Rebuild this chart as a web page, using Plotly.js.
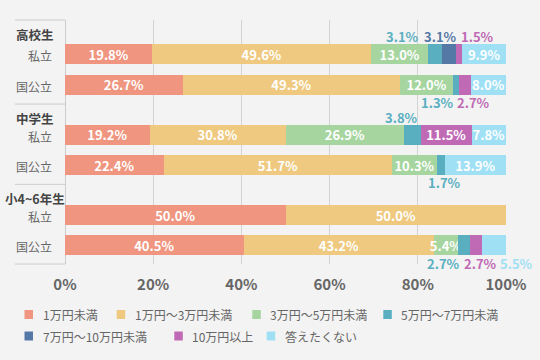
<!DOCTYPE html>
<html><head><meta charset="utf-8">
<script src="https://cdn.plot.ly/plotly-3.0.1.min.js"></script>
<style>html,body{margin:0;padding:0;background:#f3f3f3;}#chart{width:540px;height:360px;}</style>
</head><body><div id="chart"></div>
<script>
// ---- data ----
const groups = ['高校生', '中学生', '小4~6年生'];
const subs = ['私立', '国公立'];
const seriesNames = ['1万円未満', '1万円〜3万円未満', '3万円〜5万円未満', '5万円〜7万円未満', '7万円〜10万円未満', '10万円以上', '答えたくない'];
// rows: 高校生私立, 高校生国公立, 中学生私立, 中学生国公立, 小4~6年生私立, 小4~6年生国公立
const s1 = [19.8, 26.7, 19.2, 22.4, 50.0, 40.5];
const s2 = [49.6, 49.3, 30.8, 51.7, 50.0, 43.2];
const s3 = [13.0, 12.0, 26.9, 10.3, 0, 5.4];
const s4 = [3.1, 1.3, 3.8, 1.7, 0, 2.7];
const s5 = [3.1, 0, 0, 0, 0, 0];
const s6 = [1.5, 2.7, 11.5, 0, 0, 2.7];
const s7 = [9.9, 8.0, 7.8, 13.9, 0, 5.5];
const seriesValues = [s1, s2, s3, s4, s5, s6, s7];
const xTicks = [0, 20, 40, 60, 80, 100];

// ---- style ----
const colors = ['#ef9580', '#eec97f', '#a6d59f', '#59afc0', '#5579a6', '#c06ab5', '#a0e0f5'];
const FONT = '"Noto Sans CJK JP", "Noto Sans", sans-serif';
const W = 540, H = 360, ML = 65, MR = 34, MT = 20, MB = 96;
const PW = W - ML - MR, PH = H - MT - MB;
// labels drawn outside the bar: [row, series, side(-1 above / 1 below), x shift px]
const outside = [[0,3,-1,-33],[0,4,-1,-8],[0,5,-1,18.5],[1,3,1,-18.7],[1,5,1,9],[2,3,-1,-11.4],[3,3,1,4],[5,3,1,-20],[5,5,1,4.5],[5,6,1,23]];
const groupStep = 2.66;
const headerShift = [20, 16.5, 16.5];
// legend layout (pixel positions of each swatch's left edge and row centre)
const legendPos = [[24.5,314.5],[116.7,314.5],[252.3,314.5],[383.3,314.5],[24.5,336],[174.3,336],[266.7,336]];

const rowY = [];
groups.forEach((g, gi) => subs.forEach((s, si) => rowY.push(gi * groupStep + si)));
const isOutside = (r, s) => outside.some(o => o[0] === r && o[1] === s);

const fmt = v => v.toFixed(1) + '%';
const traces = seriesValues.map((vals, si) => ({
  type: 'bar', orientation: 'h', name: seriesNames[si],
  x: vals, y: rowY, width: 0.662,
  marker: {color: colors[si]},
  text: vals.map((v, r) => (v > 0 && !isOutside(r, si)) ? fmt(v) : ''),
  texttemplate: '%{text}',
  textposition: 'inside', insidetextanchor: 'middle', textangle: 0, constraintext: 'none',
  textfont: {family: FONT, size: 13, color: '#ffffff', weight: 'bold'},
  hoverinfo: 'none', showlegend: false
}));

const px2x = p => (p - ML) / PW;
const px2y = p => (H - MB - p) / PH;

const annotations = [];
outside.forEach(([r, si, side, dx]) => {
  let start = 0;
  for (let k = 0; k < si; k++) start += seriesValues[k][r];
  const v = seriesValues[si][r];
  annotations.push({
    x: start + v / 2, y: rowY[r], xref: 'x', yref: 'y', text: fmt(v), showarrow: false,
    xshift: dx, yshift: -side * 17.7,
    font: {family: FONT, size: 13, color: colors[si], weight: 'bold'}
  });
});
groups.forEach((g, gi) => {
  annotations.push({
    x: px2x(34.5), xref: 'paper', xanchor: 'center', y: rowY[gi * 2], yref: 'y', yshift: headerShift[gi],
    text: g, showarrow: false, font: {family: FONT, size: 12.5, color: '#444444', weight: 'bold'}
  });
});
rowY.forEach((y, i) => {
  annotations.push({
    x: px2x(54), xref: 'paper', xanchor: 'right', y: y, yref: 'y', yanchor: 'middle', yshift: -1.5,
    text: subs[i % 2], showarrow: false, font: {family: FONT, size: 12, color: '#666666'}
  });
});

const shapes = [];
seriesNames.forEach((n, si) => {
  const [lx, ly] = legendPos[si];
  shapes.push({type: 'rect', xref: 'paper', yref: 'paper',
    x0: px2x(lx), x1: px2x(lx + 8.5), y0: px2y(ly + 4.5), y1: px2y(ly - 4.5),
    fillcolor: colors[si], line: {width: 0}});
  annotations.push({xref: 'paper', yref: 'paper', x: px2x(lx + 16), y: px2y(ly), xanchor: 'left', yanchor: 'middle',
    text: n, showarrow: false, font: {family: FONT, size: 12, color: '#666666'}});
});

const sepYs = ['top'];
for (let gi = 1; gi < groups.length; gi++) sepYs.push(gi * groupStep - 1.02);
sepYs.push('bottom');
sepYs.forEach(v => {
  const s = {type: 'line', xref: 'paper', x0: px2x(15), x1: 0, line: {color: '#cccccc', width: 1}};
  if (v === 'top') { s.yref = 'paper'; s.y0 = s.y1 = 1; }
  else if (v === 'bottom') { s.yref = 'paper'; s.y0 = s.y1 = 0; }
  else { s.yref = 'y'; s.y0 = s.y1 = v; }
  shapes.push(s);
});

const layout = {
  width: W, height: H,
  margin: {l: ML, r: MR, t: MT, b: MB},
  paper_bgcolor: '#f3f3f3', plot_bgcolor: '#f3f3f3',
  barmode: 'stack', showlegend: false,
  xaxis: {
    range: [0, 100], tickvals: xTicks, ticktext: xTicks.map(t => t + '%'),
    showgrid: true, gridcolor: '#d3d3d3', gridwidth: 1,
    zeroline: true, zerolinecolor: '#cccccc', zerolinewidth: 1, showline: false,
    ticks: '', ticklabelstandoff: 10,
    tickfont: {family: FONT, size: 15, color: '#666666', weight: 'bold'}, fixedrange: true
  },
  yaxis: {
    range: [6.937, -1.142], showticklabels: false,
    showgrid: false, zeroline: false, showline: false, ticks: '', fixedrange: true
  },
  annotations: annotations, shapes: shapes
};

Plotly.newPlot('chart', traces, layout, {displayModeBar: false, staticPlot: true});
</script></body></html>
